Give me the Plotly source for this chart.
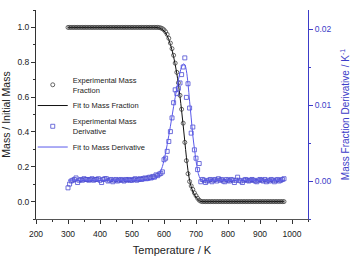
import plotly.graph_objects as go

temperature = list(range(300, 980, 5))

mass_data = [
    1.0, 1.0, 1.0, 1.0, 1.0, 1.0, 1.0, 1.0, 1.0, 1.0,
    1.0, 1.0, 1.0, 1.0, 1.0, 1.0, 1.0, 1.0, 1.0, 1.0,
    1.0, 1.0, 1.0, 1.0, 1.0, 1.0, 1.0, 1.0, 1.0, 1.0,
    1.0, 1.0, 1.0, 1.0, 1.0, 1.0, 1.0, 1.0, 1.0, 1.0,
    1.0, 1.0, 1.0, 1.0, 1.0, 1.0, 1.0, 1.0, 1.0, 1.0,
    1.0, 1.0, 1.0, 1.0, 1.0, 1.0,
    1.000, 0.999, 0.997, 0.993, 0.986, 0.975, 0.960, 0.938, 0.910, 0.878,
    0.840, 0.795, 0.742, 0.682, 0.610, 0.530, 0.450, 0.340, 0.235, 0.160,
    0.115, 0.090, 0.070, 0.050, 0.034, 0.019, 0.008, 0.002, 0.000,
    0.0, 0.0, 0.0, 0.0, 0.0, 0.0, 0.0, 0.0, 0.0, 0.0,
    0.0, 0.0, 0.0, 0.0, 0.0, 0.0, 0.0, 0.0, 0.0, 0.0,
    0.0, 0.0, 0.0, 0.0, 0.0, 0.0, 0.0, 0.0, 0.0, 0.0,
    0.0, 0.0, 0.0, 0.0, 0.0, 0.0, 0.0, 0.0, 0.0, 0.0,
    0.0, 0.0, 0.0, 0.0, 0.0, 0.0, 0.0, 0.0, 0.0, 0.0,
    0.0,
]

mass_fit = [
    1.0, 1.0, 1.0, 1.0, 1.0, 1.0, 1.0, 1.0, 1.0, 1.0,
    1.0, 1.0, 1.0, 1.0, 1.0, 1.0, 1.0, 1.0, 1.0, 1.0,
    1.0, 1.0, 1.0, 1.0, 1.0, 1.0, 1.0, 1.0, 1.0, 1.0,
    1.0, 1.0, 1.0, 1.0, 1.0, 1.0, 1.0, 1.0, 1.0, 1.0,
    1.0, 1.0, 1.0, 1.0, 1.0, 1.0, 1.0, 1.0, 1.0, 1.0,
    1.0, 1.0, 1.0, 1.0, 1.0, 1.0,
    0.999, 0.997, 0.994, 0.988, 0.980, 0.968, 0.952, 0.930, 0.902, 0.870,
    0.832, 0.787, 0.735, 0.674, 0.603, 0.522, 0.437, 0.345, 0.255, 0.178,
    0.122, 0.085, 0.060, 0.040, 0.025, 0.013, 0.005, 0.001, 0.000,
    0.0, 0.0, 0.0, 0.0, 0.0, 0.0, 0.0, 0.0, 0.0, 0.0,
    0.0, 0.0, 0.0, 0.0, 0.0, 0.0, 0.0, 0.0, 0.0, 0.0,
    0.0, 0.0, 0.0, 0.0, 0.0, 0.0, 0.0, 0.0, 0.0, 0.0,
    0.0, 0.0, 0.0, 0.0, 0.0, 0.0, 0.0, 0.0, 0.0, 0.0,
    0.0, 0.0, 0.0, 0.0, 0.0, 0.0, 0.0, 0.0, 0.0, 0.0,
    0.0,
]

deriv_data = [
    -0.0009, -0.0004, 0.0000, 0.0001, 0.0002, 0.0004, -0.0002, 0.0001, 0.0002, 0.0001,
    0.0003, 0.0002, 0.0002, 0.0001, 0.0002, 0.0003, 0.0001, 0.0002, 0.0002, 0.0003,
    0.0001, -0.0002, 0.0002, 0.0003, 0.0003, 0.0000, 0.0001, 0.0002, -0.0001, 0.0001,
    0.0002, 0.0000, 0.0001, 0.0002, 0.0001, 0.0000, 0.0002, 0.0001, 0.0002, 0.0001,
    0.0001, 0.0002, 0.0003, 0.0001, 0.0002, 0.0003, 0.0002, 0.0003, 0.0004, 0.0003,
    0.0004, 0.0005, 0.0004, 0.0006, 0.0005, 0.0008,
    0.0007, 0.0009, 0.0010, 0.0012, 0.0028, 0.0030, 0.0039, 0.0052, 0.0065, 0.0083,
    0.0103, 0.0120, 0.0115, 0.0122, 0.0129, 0.0140, 0.0150, 0.0162, 0.0110, 0.0128,
    0.0096, 0.0063, 0.0071, 0.0041, 0.0030, 0.0015, 0.0023, -0.0001, 0.0002,
    0.0001, -0.0002, 0.0000, 0.0001, 0.0002, -0.0001, 0.0001, 0.0002, 0.0000, 0.0003,
    0.0001, 0.0002, 0.0000, -0.0001, 0.0002, 0.0001, 0.0000, 0.0002, 0.0001, -0.0002,
    0.0001, 0.0005, 0.0001, 0.0000, -0.0002, 0.0001, 0.0002, 0.0001, 0.0000, 0.0001,
    0.0002, 0.0001, 0.0000, -0.0001, 0.0001, 0.0002, 0.0001, 0.0000, 0.0002, -0.0001,
    0.0001, 0.0000, 0.0002, 0.0001, -0.0001, 0.0001, 0.0002, 0.0000, 0.0001, 0.0002,
    0.0003,
]

deriv_fit = [
    0.0001, 0.0001, 0.0001, 0.0001, 0.0001, 0.0001, 0.0001, 0.0001, 0.0001, 0.0001,
    0.0001, 0.0001, 0.0001, 0.0001, 0.0001, 0.0001, 0.0001, 0.0001, 0.0001, 0.0001,
    0.0001, 0.0001, 0.0001, 0.0001, 0.0001, 0.0001, 0.0001, 0.0001, 0.0001, 0.0001,
    0.0001, 0.0001, 0.0001, 0.0001, 0.0001, 0.0001, 0.0001, 0.0001, 0.0001, 0.0001,
    0.0001, 0.0001, 0.0001, 0.0001, 0.0001, 0.0001, 0.0001, 0.0001, 0.0001, 0.0001,
    0.0001, 0.0001, 0.0002, 0.0002, 0.0003, 0.0004,
    0.0005, 0.0008, 0.0013, 0.0019, 0.0027, 0.0037, 0.0048, 0.0060, 0.0072, 0.0085,
    0.0098, 0.0110, 0.0122, 0.0133, 0.0143, 0.0150, 0.0154, 0.0153, 0.0145, 0.0128,
    0.0105, 0.0083, 0.0060, 0.0043, 0.0027, 0.0014, 0.0006, 0.0002, 0.0001,
    0.0001, 0.0001, 0.0001, 0.0001, 0.0001, 0.0001, 0.0001, 0.0001, 0.0001, 0.0001,
    0.0001, 0.0001, 0.0001, 0.0001, 0.0001, 0.0001, 0.0001, 0.0001, 0.0001, 0.0001,
    0.0001, 0.0001, 0.0001, 0.0001, 0.0001, 0.0001, 0.0001, 0.0001, 0.0001, 0.0001,
    0.0001, 0.0001, 0.0001, 0.0001, 0.0001, 0.0001, 0.0001, 0.0001, 0.0001, 0.0001,
    0.0001, 0.0001, 0.0001, 0.0001, 0.0001, 0.0001, 0.0001, 0.0001, 0.0001, 0.0001,
    0.0001,
]

x_ticks = [200, 300, 400, 500, 600, 700, 800, 900, 1000]
y_ticks = [0.0, 0.2, 0.4, 0.6, 0.8, 1.0]
y2_ticks = [0.00, 0.01, 0.02]

FONT = "Liberation Sans, Arial, sans-serif"
BLUE_AX = "#3c3cc8"
BLUE_PT = "#4b4bd2"
BLUE_LN = "#5a5aeb"
GRAY = "#404040"

fig = go.Figure()
fig.add_trace(go.Scatter(
    x=temperature, y=mass_data, mode="markers", name="Experimental Mass<br>Fraction",
    marker=dict(symbol="circle-open", size=4, color=GRAY, line=dict(width=0.8, color=GRAY)),
))
fig.add_trace(go.Scatter(
    x=temperature, y=mass_fit, mode="lines", name="Fit to Mass Fraction",
    line=dict(color="#111111", width=1, shape="spline"),
))
fig.add_trace(go.Scatter(
    x=temperature, y=deriv_data, mode="markers", name="Experimental Mass<br>Derivative",
    yaxis="y2",
    marker=dict(symbol="square-open", size=4, color=BLUE_PT, line=dict(width=0.8, color=BLUE_PT)),
))
fig.add_trace(go.Scatter(
    x=temperature, y=deriv_fit, mode="lines", name="Fit to Mass Derivative",
    yaxis="y2", line=dict(color=BLUE_LN, width=1, shape="spline"),
))

fig.update_layout(
    width=352, height=256,
    margin=dict(l=36, r=44, t=10, b=37, autoexpand=False),
    paper_bgcolor="white", plot_bgcolor="white",
    font=dict(family=FONT, size=8.5, color="#222222"),
    showlegend=True,
    legend=dict(
        x=-0.012, y=0.72, xanchor="left", yanchor="top",
        bgcolor="rgba(0,0,0,0)", font=dict(size=7.5, color="#222222"),
        itemwidth=30, tracegroupgap=0,
    ),
    xaxis=dict(
        range=[200, 1050], tickvals=x_ticks, ticks="outside", ticklen=4, tickwidth=1,
        tickcolor="#333333", showline=True, linecolor="#555555", linewidth=1,
        showgrid=False, zeroline=False, tickfont=dict(size=8.5), automargin=False,
        ticklabelstandoff=3,
        minor=dict(dtick=50, tick0=200, ticks="outside", ticklen=2, tickcolor="#333333"),
        title=dict(text="Temperature / K", font=dict(size=11, color="#222222"), standoff=8),
    ),
    yaxis=dict(
        range=[-0.1, 1.1], tickvals=y_ticks, tickformat=".1f", ticks="outside",
        ticklen=4, tickwidth=1, tickcolor="#333333", showline=True, linecolor="#333333",
        linewidth=1, showgrid=False, zeroline=False, tickfont=dict(size=8.5), automargin=False,
        minor=dict(dtick=0.1, tick0=0, ticks="outside", ticklen=2, tickcolor="#333333"),
        title=dict(text="Mass / Initial Mass", font=dict(size=10.5, color="#222222"), standoff=5),
    ),
    yaxis2=dict(
        overlaying="y", side="right", range=[-0.005, 0.0225], tickvals=y2_ticks,
        tickformat=".2f", ticks="outside", ticklen=4, tickwidth=1, tickcolor=BLUE_AX,
        showline=True, linecolor=BLUE_AX, linewidth=1, showgrid=False, zeroline=False,
        tickfont=dict(size=8.5, color=BLUE_AX), automargin=False,
        minor=dict(dtick=0.005, tick0=0, ticks="outside", ticklen=2, tickcolor=BLUE_AX),
        title=dict(text="Mass Fraction Derivative / K<sup>-1</sup>",
                   font=dict(size=10, color=BLUE_AX), standoff=11),
    ),
)

fig.write_html("out.html")
